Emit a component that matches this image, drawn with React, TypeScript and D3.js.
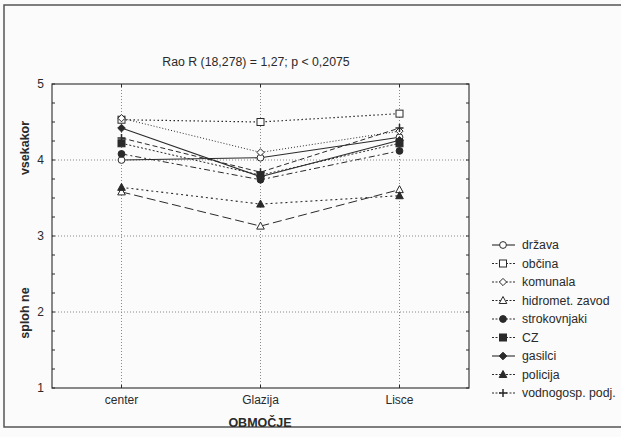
import React from "react";
import * as d3 from "d3";

// Areas on the x axis
const categories = ["center", "Glazija", "Lisce"];

// Mean ratings per group for each area
const seriesNames = [
  "država",
  "občina",
  "komunala",
  "hidromet. zavod",
  "strokovnjaki",
  "CZ",
  "gasilci",
  "policija",
  "vodnogosp. podj.",
];
const drzava = [4.0, 4.03, 4.3];
const obcina = [4.53, 4.5, 4.61];
const komunala = [4.55, 4.1, 4.38];
const hidromet = [3.58, 3.13, 3.61];
const strokovnjaki = [4.08, 3.74, 4.12];
const cz = [4.22, 3.8, 4.22];
const gasilci = [4.42, 3.78, 4.26];
const policija = [3.64, 3.42, 3.53];
const vodnogosp = [4.29, 3.84, 4.42];
const seriesValues = [drzava, obcina, komunala, hidromet, strokovnjaki, cz, gasilci, policija, vodnogosp];

const yTicks = [1, 2, 3, 4, 5];
const title = "Rao R (18,278) = 1,27; p < 0,2075";
const xTitle = "OBMOČJE";
const yTitleLow = "sploh ne";
const yTitleHigh = "vsekakor";

type Style = { dash: string; marker: string; fill: boolean; width: number };
const styles: Style[] = [
  { dash: "", marker: "circle", fill: false, width: 1.1 },
  { dash: "1.5,2.5", marker: "square", fill: false, width: 1.2 },
  { dash: "1,2", marker: "diamond", fill: false, width: 1 },
  { dash: "9,4", marker: "triangle", fill: false, width: 1 },
  { dash: "6,3,2,3", marker: "circle", fill: true, width: 1 },
  { dash: "2,2", marker: "square", fill: true, width: 1 },
  { dash: "", marker: "diamond", fill: true, width: 1.1 },
  { dash: "2,3", marker: "triangle", fill: true, width: 1.1 },
  { dash: "5,3", marker: "plus", fill: true, width: 1 },
];

const W = 621;
const H = 437;
const plot = { left: 52, right: 469, top: 84, bottom: 388 };
const ink = "#2a2a2a";
const font = "'Liberation Sans', Arial, sans-serif";

function Marker({ type, fill, x, y }: { type: string; fill: boolean; x: number; y: number }) {
  const f = fill ? ink : "#fdfdfd";
  const common = { stroke: ink, strokeWidth: 1, fill: f };
  if (type === "circle") return <circle cx={x} cy={y} r={3.4} {...common} />;
  if (type === "square") return <rect x={x - 3.5} y={y - 3.5} width={7} height={7} {...common} />;
  if (type === "diamond") {
    const s = fill ? 3.8 : 3.6;
    return <path d={`M${x},${y - s}L${x + s},${y}L${x},${y + s}L${x - s},${y}Z`} {...common} />;
  }
  if (type === "triangle")
    return <path d={`M${x},${y - 4}L${x + 3.8},${y + 3}L${x - 3.8},${y + 3}Z`} {...common} />;
  return (
    <path d={`M${x - 4},${y}H${x + 4}M${x},${y - 4}V${y + 4}`} stroke={ink} strokeWidth={1.5} fill="none" />
  );
}

export default function App() {
  const x = d3.scalePoint<string>().domain(categories).range([plot.left, plot.right]).padding(0.5);
  const y = d3.scaleLinear().domain([1, 5]).range([plot.bottom, plot.top]);
  const line = d3
    .line<number>()
    .x((_, i) => x(categories[i]) as number)
    .y((d) => y(d));
  const minor = d3.range(1, 5.001, 0.25);
  const legendX = 503;
  const legendY0 = 245;
  const legendStep = 18.5;

  return (
    <svg
      width={W}
      height={H}
      style={{ position: "absolute", left: 0, top: 0, background: "#fbfbfb" }}
      fontFamily={font}
    >
      <rect x={4} y={5} width={700} height={422} fill="none" stroke="#555" strokeWidth={1.5} />

      {/* grid */}
      {yTicks.slice(1, -1).map((t) => (
        <line key={"gy" + t} x1={plot.left} x2={plot.right} y1={y(t)} y2={y(t)} stroke="#888" strokeDasharray="1,2" />
      ))}
      {categories.map((c) => (
        <line key={"gx" + c} x1={x(c)} x2={x(c)} y1={plot.top} y2={plot.bottom} stroke="#888" strokeDasharray="1,2" />
      ))}

      {/* minor ticks */}
      {minor.map((t) => (
        <g key={"mt" + t} stroke={ink} strokeWidth={1}>
          <line x1={plot.left} x2={plot.left + 3} y1={y(t)} y2={y(t)} />
          <line x1={plot.right - 3} x2={plot.right} y1={y(t)} y2={y(t)} />
        </g>
      ))}
      {categories.map((c) => (
        <g key={"xt" + c} stroke={ink}>
          <line x1={x(c)} x2={x(c)} y1={plot.bottom} y2={plot.bottom - 3} />
          <line x1={x(c)} x2={x(c)} y1={plot.top} y2={plot.top + 3} />
        </g>
      ))}

      <rect
        x={plot.left}
        y={plot.top}
        width={plot.right - plot.left}
        height={plot.bottom - plot.top}
        fill="none"
        stroke={ink}
        strokeWidth={1.1}
      />

      {/* tick labels */}
      {yTicks.map((t) => (
        <text key={"yl" + t} x={44} y={y(t)} dy="0.35em" textAnchor="end" fontSize={12} fill={ink}>
          {t}
        </text>
      ))}
      {categories.map((c) => (
        <text key={"xl" + c} x={x(c)} y={404} textAnchor="middle" fontSize={12} fill={ink}>
          {c}
        </text>
      ))}

      <text x={256} y={66} textAnchor="middle" fontSize={12.3} fill={ink}>
        {title}
      </text>
      <text x={260} y={427} textAnchor="middle" fontSize={12.5} fontWeight="bold" fill={ink}>
        {xTitle}
      </text>
      <text transform={`translate(29,148) rotate(-90)`} textAnchor="middle" fontSize={12.5} fontWeight="bold" fill={ink}>
        {yTitleHigh}
      </text>
      <text transform={`translate(29,313) rotate(-90)`} textAnchor="middle" fontSize={12.5} fontWeight="bold" fill={ink}>
        {yTitleLow}
      </text>

      {/* series lines */}
      {seriesValues.map((vals, i) => (
        <path
          key={"l" + i}
          d={line(vals) as string}
          fill="none"
          stroke={ink}
          strokeWidth={styles[i].width}
          strokeDasharray={styles[i].dash}
        />
      ))}
      {seriesValues.map((vals, i) =>
        vals.map((v, j) => (
          <Marker key={"m" + i + "-" + j} type={styles[i].marker} fill={styles[i].fill} x={x(categories[j]) as number} y={y(v)} />
        ))
      )}

      {/* legend */}
      {seriesNames.map((name, i) => {
        const ly = legendY0 + i * legendStep;
        return (
          <g key={"lg" + i}>
            <line
              x1={legendX - 11}
              x2={legendX + 12}
              y1={ly}
              y2={ly}
              stroke={ink}
              strokeWidth={styles[i].width}
              strokeDasharray={styles[i].dash ? "2,1.5" : ""}
            />
            <Marker type={styles[i].marker} fill={styles[i].fill} x={legendX} y={ly} />
            <text x={522} y={ly} dy="0.35em" fontSize={12.3} fill={ink}>
              {name}
            </text>
          </g>
        );
      })}
    </svg>
  );
}
